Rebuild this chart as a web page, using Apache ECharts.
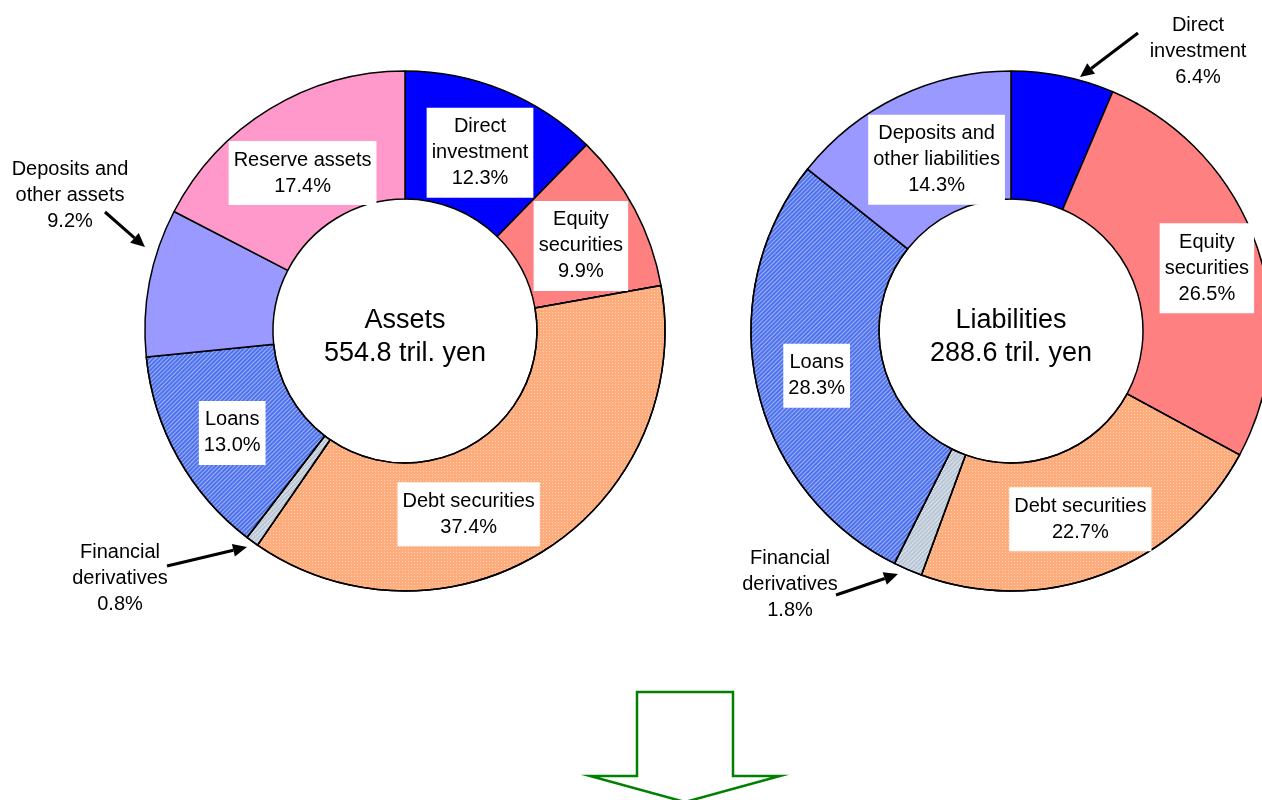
<!DOCTYPE html>
<html>
<head>
<meta charset="utf-8">
<script src="https://cdn.jsdelivr.net/npm/echarts@6/dist/echarts.min.js"></script>
<style>html,body{margin:0;padding:0;background:#fff;}#c{width:1262px;height:800px;}</style>
</head>
<body>
<div id="c"></div>
<script>
// ---- data ----
const assetNames = ['Direct\ninvestment', 'Equity\nsecurities', 'Debt securities', 'Financial\nderivatives', 'Loans', 'Deposits and\nother assets', 'Reserve assets'];
const assetValues = [12.3, 9.9, 37.4, 0.8, 13.0, 9.2, 17.4];
const liabNames = ['Direct\ninvestment', 'Equity\nsecurities', 'Debt securities', 'Financial\nderivatives', 'Loans', 'Deposits and\nother liabilities'];
const liabValues = [6.4, 26.5, 22.7, 1.8, 28.3, 14.3];
const assetTotal = 'Assets\n554.8 tril. yen';
const liabTotal = 'Liabilities\n288.6 tril. yen';

// ---- styles ----
const FONT = '"Liberation Sans", Arial, sans-serif';
const catStyle = {
  'Direct': { color: '#0000FF' },
  'Equity': { color: '#FF8080' },
  'Debt': { color: '#FFAC7C', decal: { symbol: 'rect', symbolSize: 1, dashArrayX: [1, 2], dashArrayY: [1, 2], color: 'rgba(255,255,255,0.45)' } },
  'Financial': { color: '#B8C6D6', decal: { symbol: 'rect', symbolSize: 1, dashArrayX: [1, 0], dashArrayY: [1, 2], rotation: -Math.PI / 4, color: 'rgba(255,255,255,0.5)' } },
  'Loans': { color: '#4E72EE', decal: { symbol: 'rect', symbolSize: 1, dashArrayX: [1, 0], dashArrayY: [1, 2], rotation: -Math.PI / 4, color: 'rgba(255,255,255,0.45)' } },
  'Deposits': { color: '#9999FF' },
  'Reserve': { color: '#FF99CC' }
};
function key(n) { return n.split(/[\s\n]/)[0]; }

// label adjustments: inside labels get dx/dy; outside labels get absolute centers
const leftAdjust = {
  0: { dx: 0, dy: 6 }, 1: { dx: 0, dy: 8 }, 2: { dx: -44, dy: 16 }, 4: { dx: 1, dy: 5 }, 6: { dx: 1, dy: 12 },
  3: { x: 120, y: 578, outside: true }, 5: { x: 70, y: 195, outside: true }
};
const rightAdjust = {
  1: { dx: 8, dy: 3 }, 2: { dx: -1, dy: 2 }, 4: { dx: 0, dy: 2 }, 5: { dx: 12, dy: 8 },
  0: { x: 1198, y: 51, outside: true }, 3: { x: 790, y: 584, outside: true }
};

function buildData(names, values, adj) {
  return names.map((n, i) => {
    const st = catStyle[key(n)];
    const a = adj[i] || {};
    const item = {
      name: n, value: values[i],
      itemStyle: { color: st.color, decal: st.decal || null, borderColor: '#000', borderWidth: 1.5 }
    };
    if (a.outside) {
      item.label = { position: 'outside', backgroundColor: 'transparent', padding: 0 };
      item.labelLine = { show: false };
    }
    return item;
  });
}

function layoutFn(adj) {
  return function (p) {
    const a = adj[p.dataIndex];
    if (!a) return {};
    if (a.outside) return { x: a.x, y: a.y, align: 'center', verticalAlign: 'middle' };
    return { dx: a.dx, dy: a.dy };
  };
}

function pieSeries(names, values, center, adj) {
  return {
    type: 'pie',
    center: center,
    radius: [132, 260],
    startAngle: 90,
    clockwise: true,
    avoidLabelOverlap: false,
    silent: true,
    data: buildData(names, values, adj),
    label: {
      show: true,
      position: 'inside',
      formatter: p => p.name + '\n' + p.value.toFixed(1) + '%',
      color: '#000',
      fontFamily: FONT,
      fontSize: 20,
      lineHeight: 26,
      align: 'center',
      backgroundColor: '#fff',
      padding: [6, 5, 6, 5]
    },
    labelLine: { show: false },
    labelLayout: layoutFn(adj),
    emphasis: { disabled: true }
  };
}

function arrow(x1, y1, x2, y2, color, w) {
  const ang = Math.atan2(y2 - y1, x2 - x1);
  const L = 14, W = 6.5;
  const bx = x2 - L * Math.cos(ang), by = y2 - L * Math.sin(ang);
  const px = -Math.sin(ang) * W, py = Math.cos(ang) * W;
  return [
    { type: 'line', shape: { x1: x1, y1: y1, x2: bx, y2: by }, style: { stroke: color, lineWidth: w }, silent: true },
    { type: 'polygon', shape: { points: [[x2, y2], [bx + px, by + py], [bx - px, by - py]] }, style: { fill: color }, silent: true }
  ];
}

const chart = echarts.init(document.getElementById('c'), null, { renderer: 'canvas' });
chart.setOption({
  backgroundColor: '#fff',
  animation: false,
  series: [
    pieSeries(assetNames, assetValues, [405, 331], leftAdjust),
    pieSeries(liabNames, liabValues, [1011, 331], rightAdjust)
  ],
  graphic: [
    { type: 'text', x: 405, y: 337, style: { text: assetTotal, font: '27px ' + FONT, fill: '#000', align: 'center', verticalAlign: 'middle', lineHeight: 33 }, silent: true },
    { type: 'text', x: 1011, y: 337, style: { text: liabTotal, font: '27px ' + FONT, fill: '#000', align: 'center', verticalAlign: 'middle', lineHeight: 33 }, silent: true },
    ...arrow(105, 212, 145, 247, '#000', 3),
    ...arrow(167, 566, 247, 547, '#000', 3),
    ...arrow(836, 595, 898, 574, '#000', 3),
    ...arrow(1138, 33, 1080, 77, '#000', 3),
    { type: 'polygon', shape: { points: [[637, 692], [733, 692], [733, 776], [780, 776], [685, 802], [590, 776], [637, 776]] }, style: { fill: 'none', stroke: '#008000', lineWidth: 2.5 }, silent: true }
  ]
});
</script>
</body>
</html>
